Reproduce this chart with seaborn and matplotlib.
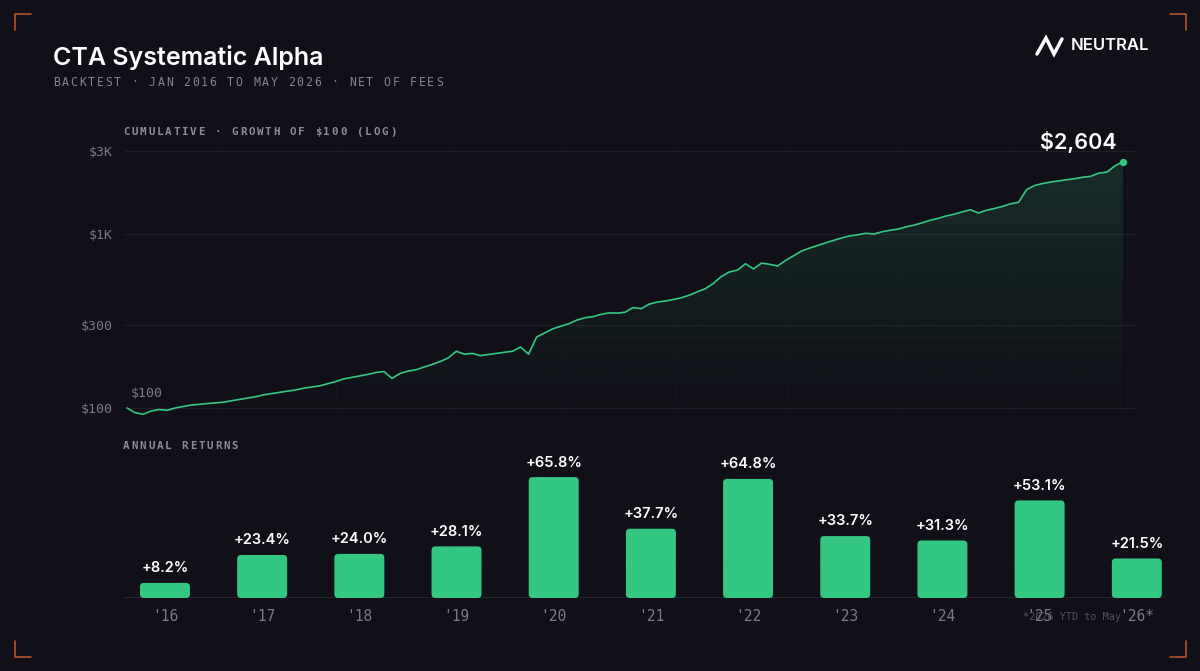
import numpy as np
import pandas as pd
import matplotlib.pyplot as plt
import seaborn as sns
from matplotlib.patches import FancyBboxPatch
from matplotlib.lines import Line2D

W, H = 1200, 671
BG = '#111018'
GREEN = '#34c782'
GRID = '#201f29'
MUTED = '#7b7a86'
MONO = 'DejaVu Sans Mono'
SANS = 'Inter'

# growth of $100, month ends Jan 2016 .. May 2026
growth = [
    100, 94, 92, 96, 98, 97, 100, 102, 104, 105, 106, 107, 108,               # 2016
    110, 112, 114, 116, 119, 121, 123, 125, 127, 130, 132, 134,               # 2017
    138, 142, 147, 150, 153, 156, 160, 162, 148, 158, 163, 166,               # 2018
    172, 178, 185, 194, 212, 204, 206, 200, 203, 206, 209, 212,               # 2019
    224, 204, 256, 270, 285, 295, 305, 320, 330, 335, 345, 352,               # 2020
    351, 355, 378, 372, 395, 406, 412, 420, 430, 445, 465, 485,               # 2021
    520, 570, 605, 620, 675, 630, 680, 670, 655, 705, 750, 799,               # 2022
    830, 860, 890, 920, 950, 975, 990, 1010, 1000, 1030, 1050, 1068,          # 2023
    1100, 1125, 1160, 1200, 1230, 1270, 1300, 1340, 1380, 1320, 1370, 1402,   # 2024
    1440, 1490, 1520, 1800, 1900, 1950, 1990, 2020, 2050, 2080, 2120, 2147,   # 2025
    2240, 2270, 2463, 2604,                                                   # 2026 YTD
]
y_ticks = [100, 300, 1000, 3000]
y_labels = ['$100', '$300', '$1K', '$3K']

years = ["'16", "'17", "'18", "'19", "'20", "'21", "'22", "'23", "'24", "'25", "'26*"]
returns = [8.2, 23.4, 24.0, 28.1, 65.8, 37.7, 64.8, 33.7, 31.3, 53.1, 21.5]

sns.set_theme(style='dark')
plt.rcParams['font.family'] = [SANS, 'DejaVu Sans']
plt.rcParams['axes.facecolor'] = 'none'
plt.rcParams['figure.facecolor'] = BG

fig = plt.figure(figsize=(W / 100, H / 100), dpi=100)


def fx(x):
    return x / W


def fy(y):
    return 1 - y / H


# faint background grid
for gx in range(110, W, 113):
    fig.add_artist(Line2D([fx(gx)] * 2, [0, 1], color='#15141d', lw=0.8, zorder=0))
for gy in range(110, H, 113):
    fig.add_artist(Line2D([0, 1], [fy(gy)] * 2, color='#15141d', lw=0.8, zorder=0))

# corner marks
ccol = '#b5512f'
for cx, cy, dx, dy in [(15, 14, 1, 1), (1186, 14, -1, 1), (15, 657, 1, -1), (1186, 657, -1, -1)]:
    fig.add_artist(Line2D([fx(cx + 16 * dx), fx(cx), fx(cx)], [fy(cy), fy(cy), fy(cy + 16 * dy)],
                          color=ccol, lw=1.2))


def spaced(x, y, s, adv, **kw):
    for i, ch in enumerate(s):
        fig.text(fx(x + i * adv), fy(y), ch, va='center', ha='left', family=MONO, **kw)


# header
fig.text(fx(53), fy(65), 'CTA Systematic Alpha', fontsize=18, weight='semibold',
         color='white', va='baseline')
spaced(53, 82, 'BACKTEST · JAN 2016 TO MAY 2026 · NET OF FEES', 8.7, fontsize=8.3, color='#85848f')
spaced(123, 132, 'CUMULATIVE · GROWTH OF $100 (LOG)', 8.35, fontsize=7.8, color='#8d8c97', weight='bold')
spaced(123, 446, 'ANNUAL RETURNS', 8.35, fontsize=7.8, color='#8d8c97', weight='bold')

# logo
fig.add_artist(Line2D([fx(1037), fx(1046), fx(1054), fx(1062)], [fy(54), fy(38), fy(54), fy(39)],
                      color='white', lw=2.5, solid_joinstyle='miter'))
fig.text(fx(1071), fy(46), 'NEUTRAL', fontsize=12, weight='semibold', color='white', va='center')

# cumulative line (log scale)
ax1 = fig.add_axes([fx(125), fy(418), fx(1137 - 125), (418 - 140) / H])
ax1.set_yscale('log')
lo, hi = 87.6, 3470
months = np.arange(len(growth))
df_line = pd.DataFrame({'month': months, 'value': growth})
sns.lineplot(data=df_line, x='month', y='value', ax=ax1, color=GREEN, lw=1.2, zorder=4)

fill = ax1.fill_between(months, growth, lo, color='none', lw=0)
grad = np.zeros((100, 1, 4))
grad[:, 0, :3] = plt.matplotlib.colors.to_rgb(GREEN)
grad[:, 0, 3] = np.linspace(0.17, 0.0, 100)
img = ax1.imshow(grad, extent=[0, 1, 0, 1], transform=ax1.transAxes, aspect='auto',
                 origin='upper', zorder=2)
img.set_clip_path(fill.get_paths()[0], transform=ax1.transData)

ax1.scatter([months[-1]], [growth[-1]], s=28, color=GREEN, zorder=5, lw=0)
ax1.annotate(f'${growth[-1]:,}', (months[-1], growth[-1]), xytext=(-32, 14),
             textcoords='offset points', ha='center', va='center', color='white',
             fontsize=15.5, weight='semibold')
ax1.annotate(f'${growth[0]}', (months[0], growth[0]), xytext=(3, 10.5),
             textcoords='offset points', ha='left', va='center', color=MUTED,
             fontsize=9.5, family=MONO)

ax1.set_xlim(-0.25, 125.75)
ax1.set_ylim(lo, hi)
ax1.set_yticks(y_ticks)
ax1.set_yticklabels(y_labels)
ax1.yaxis.set_minor_locator(plt.NullLocator())
ax1.set_xticks([])
ax1.tick_params(axis='y', length=0, pad=8.5, labelsize=9.5, labelcolor=MUTED)
for lab in ax1.get_yticklabels():
    lab.set_family(MONO)
ax1.grid(axis='y', color=GRID, lw=0.9)
ax1.grid(axis='x', visible=False)
ax1.set_xlabel('')
ax1.set_ylabel('')
sns.despine(ax=ax1, left=True, bottom=True)

# annual returns bars
ax2 = fig.add_axes([fx(123), fy(598), fx(1165 - 123), (598 - 451) / H])
df_bar = pd.DataFrame({'year': years, 'ret': returns})
sns.barplot(data=df_bar, x='year', y='ret', ax=ax2, color=GREEN, saturation=1, width=0.514)
for p in list(ax2.patches):
    x0, y0, w, h = p.get_x(), p.get_y(), p.get_width(), p.get_height()
    p.remove()
    ax2.add_patch(FancyBboxPatch((x0, y0), w, h, boxstyle='round,pad=0,rounding_size=0.04',
                                 mutation_aspect=53, fc=GREEN, ec='none', zorder=3))
for i, r in enumerate(returns):
    ax2.annotate(f'+{r:.1f}%', (i, r), xytext=(0, 10.5), textcoords='offset points',
                 ha='center', va='center', color='white', fontsize=10.5, weight='semibold')
ax2.axhline(0, color='#2b2a34', lw=1.2, zorder=2)
ax2.set_xlim(-0.432, 10.29)
ax2.set_ylim(0, 80)
ax2.set_yticks([])
ax2.tick_params(axis='x', length=0, pad=8, labelsize=10.5, labelcolor=MUTED)
for lab in ax2.get_xticklabels():
    lab.set_family(MONO)
ax2.grid(False)
ax2.set_xlabel('')
ax2.set_ylabel('')
sns.despine(ax=ax2, left=True, bottom=True)

# footnote sits over the last labels, as in the source
fig.text(fx(1023), fy(617), '*2026 YTD to May', family=MONO, fontsize=7.3,
         color='#55545e', va='center')

fig.savefig('out.png', dpi=100, facecolor=BG)
